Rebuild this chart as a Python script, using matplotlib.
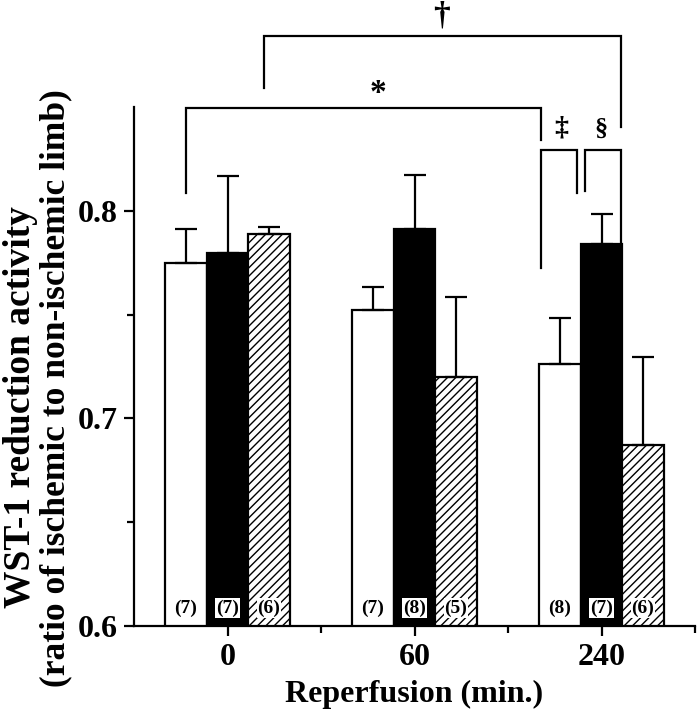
import numpy as np
import matplotlib.pyplot as plt

# reperfusion time groups
categories = ['0', '60', '240']

# three treatment groups (white / black / hatched bars)
white_means = [0.7748, 0.7523, 0.7263]
white_err = [0.0164, 0.0112, 0.0220]
black_means = [0.7799, 0.7912, 0.7841]
black_err = [0.0371, 0.0261, 0.0143]
hatch_means = [0.7886, 0.7199, 0.6872]
hatch_err = [0.0038, 0.0385, 0.0424]

white_n = ['(7)', '(7)', '(8)']
black_n = ['(7)', '(8)', '(7)']
hatch_n = ['(6)', '(5)', '(6)']

# significance brackets: (x_left, x_right, y_top, y_left_end, y_right_end, symbol, text_x, text_y, size)
brackets = [
    (0.776, 2.675, 0.8496, 0.8087, 0.8342, '*', 1.807, 0.8565, 24),
    (1.193, 3.102, 0.8843, 0.8593, 0.8405, '\u2020', 2.144, 0.8940, 24),
    (2.678, 2.870, 0.8294, 0.7725, 0.8087, '\u2021', 2.784, 0.8400, 20),
    (2.914, 3.102, 0.8294, 0.8096, 0.7561, '\u00a7', 2.998, 0.8395, 19),
]

plt.rcParams['font.family'] = 'Liberation Serif'
plt.rcParams['font.weight'] = 'bold'
plt.rcParams['hatch.linewidth'] = 1.0

fig = plt.figure(figsize=(6.98, 7.19), dpi=100)
ax = fig.add_axes([0.192, 0.1293, 0.8037, 0.7219])

x = np.arange(1, len(categories) + 1)
w = 0.222
err_kw = dict(capsize=8, elinewidth=1.6, capthick=1.6, ecolor='black')

ax.bar(x - w, white_means, w, color='white', edgecolor='black', linewidth=1.6,
       yerr=[np.zeros(3), white_err], error_kw=err_kw, zorder=2)
ax.bar(x, black_means, w, color='black', edgecolor='black', linewidth=1.6,
       yerr=[np.zeros(3), black_err], error_kw=err_kw, zorder=2)
ax.bar(x + w, hatch_means, w, color='white', edgecolor='black', linewidth=1.6, hatch='////',
       yerr=[np.zeros(3), hatch_err], error_kw=err_kw, zorder=2)

# n labels at bar bottoms
for i in range(3):
    for dx, lab in [(-w, white_n[i]), (0, black_n[i]), (w, hatch_n[i])]:
        ax.text(x[i] + dx, 0.6087, lab, ha='center', va='center', fontsize=14,
                fontweight='bold', zorder=4,
                bbox=dict(boxstyle='square,pad=0.05', facecolor='white', edgecolor='none'))

# significance brackets
for xl, xr, yt, yl, yr, sym, tx, ty, fs in brackets:
    ax.plot([xl, xl, xr, xr], [yl, yt, yt, yr], color='black', lw=1.6, clip_on=False,
            solid_joinstyle='miter')
    ax.text(tx, ty, sym, ha='center', va='center', fontsize=fs, fontweight='bold',
            clip_on=False)

ax.set_xlim(0.5, 3.5)
ax.set_ylim(0.6, 0.85)
ax.set_xticks(x)
ax.set_xticklabels(categories)
ax.xaxis.set_minor_locator(plt.FixedLocator([1.5, 2.5, 3.5]))
ax.set_yticks([0.6, 0.7, 0.8])
ax.set_yticklabels(['0.6', '0.7', '0.8'])
ax.yaxis.set_minor_locator(plt.FixedLocator([0.65, 0.75]))

ax.spines['top'].set_visible(False)
ax.spines['right'].set_visible(False)
for s in ['left', 'bottom']:
    ax.spines[s].set_linewidth(1.6)

ax.tick_params(axis='both', which='major', direction='out', length=7, width=1.6,
               labelsize=23, pad=5)
ax.tick_params(axis='both', which='minor', direction='out', length=5, width=1.6)
for lab in ax.get_xticklabels() + ax.get_yticklabels():
    lab.set_fontweight('bold')

ax.set_xlabel('Reperfusion (min.)', fontsize=23, fontweight='bold', labelpad=6)

fig.text(0.030, 0.4333, 'WST-1 reduction activity', rotation=90, ha='center', va='center',
         fontsize=27, fontweight='bold')
fig.text(0.080, 0.4604, '(ratio of ischemic to non-ischemic limb)', rotation=90,
         ha='center', va='center', fontsize=25.5, fontweight='bold')

fig.savefig('out.png', dpi=100)
